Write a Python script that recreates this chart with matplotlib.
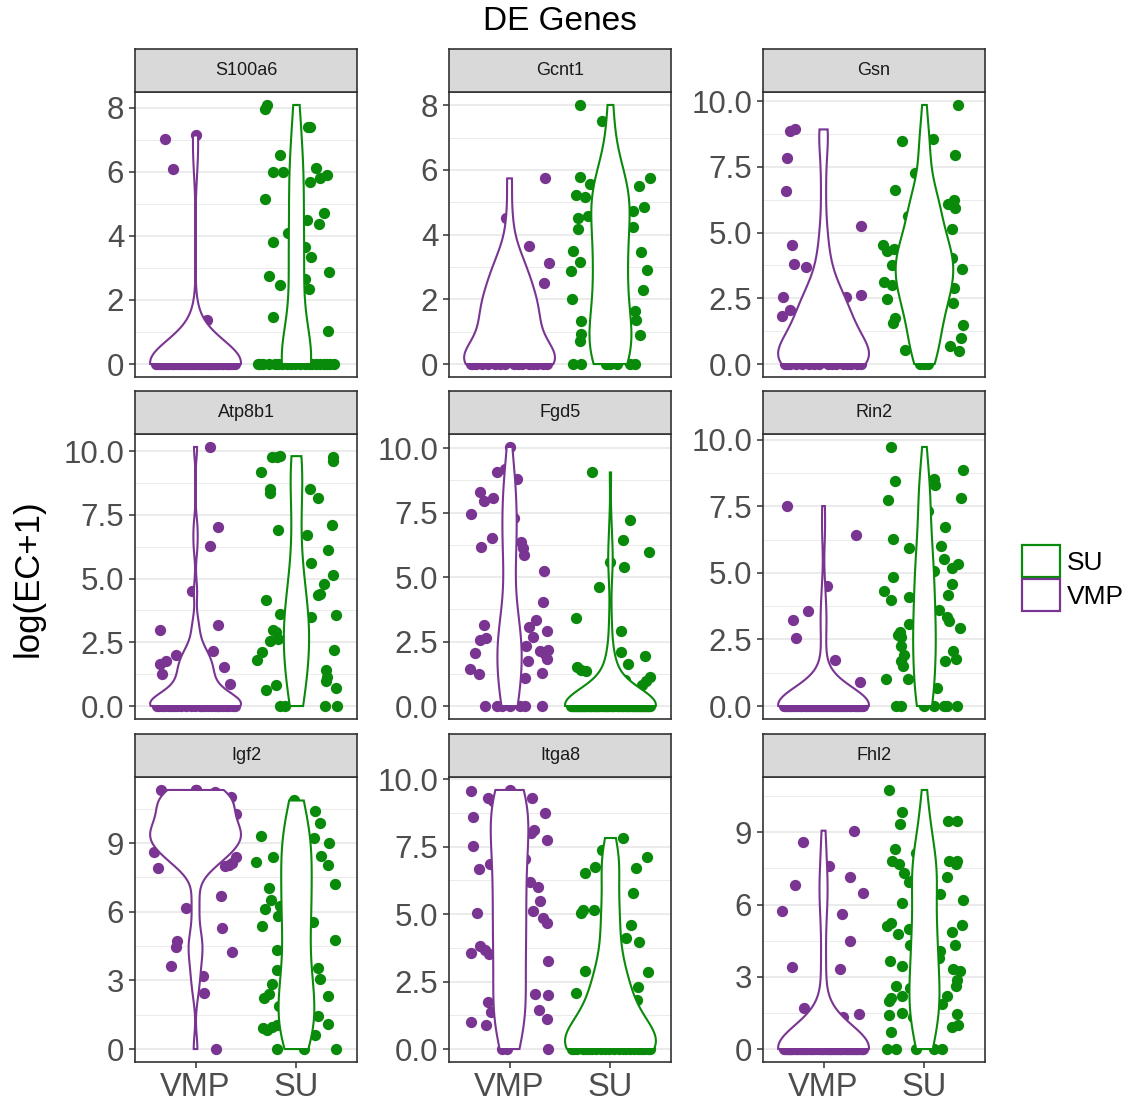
import numpy as np
import matplotlib
matplotlib.use("Agg")
import matplotlib.pyplot as plt
from matplotlib.patches import Patch

plt.rcParams['font.family'] = ['Liberation Sans', 'DejaVu Sans']

# ---------------- data ----------------
GENES = ['S100a6', 'Gcnt1', 'Gsn', 'Atp8b1', 'Fgd5', 'Rin2', 'Igf2', 'Itga8', 'Fhl2']
GROUPS = ['VMP', 'SU']
LEGEND_ORDER = ['SU', 'VMP']

# jitter offsets used for the many overlapping points at zero
ZERO_JIT = [-0.38, 0.12, -0.05, 0.33, -0.21, 0.27, -0.33, 0.04, 0.19, -0.14, 0.37, -0.27, 0.08,
            -0.09, 0.23, -0.36, 0.15, -0.01, 0.30, -0.18, 0.39, -0.24, 0.06, -0.31, 0.21, -0.11,
            0.35, -0.03, 0.10, -0.29, 0.26, -0.16, 0.01, -0.39, 0.17, -0.07, 0.32, -0.22, 0.13,
            -0.34, 0.24, -0.12, 0.38, -0.26, 0.03, -0.19, 0.29, -0.02, 0.16, -0.35,
            0.07, -0.32, 0.28, -0.13, 0.36, -0.20, 0.02, -0.37, 0.22, -0.06, 0.31, -0.25, 0.11,
            -0.15, 0.34, -0.30, 0.18, -0.04, 0.25, -0.28, 0.05, -0.40, 0.14, -0.10, 0.40, -0.17,
            0.09, -0.23, 0.20, -0.08]

# S100a6
S100a6_VMP_vals = [7.02, 6.09, 7.13, 1.37]
S100a6_VMP_jit = [-0.30, -0.22, 0.00, 0.115]
S100a6_VMP_hidden = [0.3, 0.5, 0.8, 1.0]
S100a6_VMP_zeros = 40
S100a6_SU_vals = [7.96, 8.08, 7.40, 7.38, 6.53, 5.99, 5.99, 6.11, 5.80, 5.88, 5.68, 5.14, 4.50, 4.70,
                  4.37, 4.08, 3.80, 3.66, 3.35, 2.88, 2.74, 2.47, 2.64, 2.33, 1.47, 1.02]
S100a6_SU_jit = [-0.31, -0.29, 0.11, 0.135, -0.16, -0.23, -0.135, 0.19, 0.23, 0.30, 0.13, -0.31, 0.10,
                 0.27, 0.22, -0.08, -0.23, 0.08, 0.14, 0.32, -0.27, -0.16, 0.08, 0.12, -0.23, 0.31]
S100a6_SU_hidden = [0.6, 1.5, 3.2]
S100a6_SU_zeros = 20

# Gcnt1
Gcnt1_VMP_vals = [5.74, 3.64, 3.12, 2.51, 4.50]
Gcnt1_VMP_jit = [0.35, 0.19, 0.39, 0.34, -0.035]
Gcnt1_VMP_hidden = [0.2, 0.4, 0.5, 0.7, 0.8, 0.9, 1.0, 1.1, 1.2, 1.3, 1.4, 1.5, 1.6, 1.7, 1.8, 1.9,
                    2.0, 2.1, 2.2, 2.4, 2.6, 2.8, 3.0, 3.3]
Gcnt1_VMP_zeros = 16
Gcnt1_SU_vals = [8.01, 7.52, 5.79, 5.56, 5.15, 5.23, 4.51, 4.57, 4.17, 3.50, 3.17, 2.88, 2.01, 1.34,
                 0.93, 0.72, 5.75, 5.51, 4.87, 4.74, 4.24, 3.45, 2.90, 2.30, 1.37, 0.90, 1.65,
                 0.0, 0.0, 0.0, 0.0, 0.0, 0.0, 0.0]
Gcnt1_SU_jit = [-0.30, -0.08, -0.30, -0.20, -0.25, -0.34, -0.32, -0.22, -0.32, -0.37, -0.30, -0.39,
                -0.38, -0.29, -0.29, -0.30, 0.39, 0.28, 0.33, 0.22, 0.22, 0.30, 0.36, 0.32, 0.25,
                0.29, 0.24, -0.37, -0.29, -0.04, 0.06, 0.19, 0.24, 0.0]
Gcnt1_SU_hidden = [0.3, 0.5, 0.8, 1.0, 1.5, 2.0, 2.5, 3.0, 3.5, 4.0, 4.5, 5.0, 5.5, 6.0, 6.5, 1.2, 2.7]
Gcnt1_SU_zeros = 0

# Gsn
Gsn_VMP_vals = [8.85, 8.92, 7.84, 6.57, 4.54, 3.81, 3.68, 2.55, 1.81, 2.07, 5.24, 2.64, 2.55]
Gsn_VMP_jit = [-0.33, -0.28, -0.36, -0.37, -0.31, -0.29, -0.17, -0.40, -0.41, -0.33, 0.37, 0.37, 0.22]
Gsn_VMP_hidden = [0.2, 0.3, 0.4, 0.5, 0.6, 0.7, 0.8, 0.9, 1.0, 1.0, 1.1, 1.2, 1.3, 1.4, 1.5, 1.6,
                  1.8, 2.0, 2.2, 2.4, 2.8, 3.1]
Gsn_VMP_zeros = 16
Gsn_SU_vals = [9.85, 8.48, 8.55, 7.94, 6.61, 7.27, 6.07, 6.22, 5.94, 5.15, 5.62, 4.54, 4.29, 4.39,
               3.76, 3.12, 3.02, 2.49, 1.75, 1.56, 0.52, 3.63, 4.04, 2.32, 2.89, 1.50, 0.99, 0.51,
               0.67, 0.0, 0.0, 0.0]
Gsn_SU_jit = [0.335, -0.22, 0.08, 0.30, -0.29, -0.09, 0.23, 0.29, 0.30, 0.27, -0.16, -0.41, -0.37,
              -0.30, -0.32, -0.40, -0.32, -0.37, -0.29, -0.31, -0.19, 0.37, 0.27, 0.28, 0.29, 0.38,
              0.36, 0.34, 0.25, -0.04, 0.0, 0.04]
Gsn_SU_hidden = [1.0, 1.5, 2.0, 2.2, 2.4, 2.6, 2.8, 2.9, 3.1, 3.3, 3.5, 3.6, 3.8, 3.9, 4.0, 4.1,
                 4.3, 4.5, 4.7, 5.0, 5.3, 5.6, 6.0, 6.5]
Gsn_SU_zeros = 0

# Atp8b1
Atp8b1_VMP_vals = [10.16, 7.04, 6.26, 4.50, 2.99, 1.66, 1.76, 1.24, 2.02, 3.19, 2.15, 1.55, 0.85]
Atp8b1_VMP_jit = [0.14, 0.22, 0.14, -0.035, -0.35, -0.35, -0.29, -0.33, -0.19, 0.22, 0.17, 0.28, 0.34]
Atp8b1_VMP_hidden = [0.2, 0.3, 0.4, 0.5, 0.6, 0.7, 0.8, 1.0, 1.1, 1.2, 1.3, 1.5, 1.8, 2.0, 2.3]
Atp8b1_VMP_zeros = 25
Atp8b1_SU_vals = [9.19, 9.77, 9.80, 9.77, 8.50, 8.37, 6.90, 8.50, 8.17, 6.70, 9.77, 9.61, 7.08, 6.11,
                  5.59, 5.15, 4.78, 4.39, 4.35, 3.58, 3.48, 4.16, 3.61, 2.99, 2.89, 2.57, 2.63, 2.11,
                  1.81, 0.61, 0.81, 2.20, 1.42, 1.13, 1.00, 0.70, 0.0, 0.0, 0.0, 0.0]
Atp8b1_SU_jit = [-0.35, -0.24, -0.16, -0.19, -0.26, -0.26, -0.18, 0.13, 0.21, 0.10, 0.36, 0.36, 0.35,
                 0.31, 0.14, 0.36, 0.27, 0.23, 0.21, 0.39, 0.14, -0.30, -0.16, -0.23, -0.20, -0.26,
                 -0.18, -0.34, -0.39, -0.30, -0.20, 0.37, 0.29, 0.30, 0.29, 0.39, -0.16, -0.11,
                 0.28, 0.40]
Atp8b1_SU_hidden = [1.5, 2.0, 2.5, 3.0, 3.3, 2.2, 2.8, 3.8, 4.5, 5.0]
Atp8b1_SU_zeros = 0

# Fgd5
Fgd5_VMP_vals = [10.05, 9.06, 9.20, 8.82, 8.30, 7.94, 8.07, 7.45, 7.30, 6.50, 6.18, 6.37, 6.14, 5.86,
                 5.24, 4.02, 3.35, 3.08, 2.90, 2.66, 2.32, 2.15, 2.17, 2.02, 1.76, 1.83, 1.27, 1.09,
                 3.15, 2.57, 2.63, 2.05, 1.42, 1.25, 0.0, 0.0, 0.0, 0.0, 0.0, 0.0, 0.0]
Fgd5_VMP_jit = [0.0, -0.12, -0.05, 0.07, -0.29, -0.25, -0.16, -0.38, 0.04, -0.17, -0.28, 0.11, 0.13,
                0.14, 0.34, 0.33, 0.26, 0.19, 0.37, 0.23, 0.16, 0.30, 0.38, 0.35, 0.18, 0.37, 0.32,
                0.15, -0.25, -0.29, -0.23, -0.34, -0.39, -0.30, -0.24, -0.12, -0.07, 0.0, 0.10,
                0.15, 0.32]
Fgd5_VMP_hidden = [0.5, 1.5, 3.5, 4.5, 5.5, 7.0, 8.0]
Fgd5_VMP_zeros = 0
Fgd5_SU_vals = [9.06, 7.23, 6.44, 5.97, 5.39, 4.62, 3.40, 2.92, 2.08, 1.63, 1.96, 1.12, 0.97, 0.80,
                1.02, 1.51, 1.40, 1.35, 5.60]
Fgd5_SU_jit = [-0.18, 0.19, 0.12, 0.38, 0.13, -0.11, -0.34, 0.10, 0.10, 0.17, 0.34, 0.39, 0.35, 0.31,
               0.14, -0.33, -0.29, -0.24, 0.0]
Fgd5_SU_hidden = [0.3, 0.5, 0.8]
Fgd5_SU_zeros = 70

# Rin2
Rin2_VMP_vals = [7.51, 6.41, 4.49, 3.23, 3.58, 2.56, 1.73, 0.90]
Rin2_VMP_jit = [-0.36, 0.32, 0.03, -0.30, -0.15, -0.27, 0.11, 0.36]
Rin2_VMP_hidden = [0.3, 0.6, 1.0]
Rin2_VMP_zeros = 40
Rin2_SU_vals = [9.73, 8.44, 7.72, 6.26, 4.85, 4.33, 3.98, 2.77, 2.68, 2.58, 2.27, 1.90, 1.68, 1.52,
                1.02, 5.95, 4.08, 3.08, 1.02, 8.52, 8.29, 7.32, 6.72, 6.01, 5.51, 5.07, 5.17, 5.35,
                4.60, 4.18, 3.62, 3.33, 3.20, 2.93, 2.08, 1.77, 1.68, 8.87, 7.82, 0.69,
                0.0, 0.0, 0.0, 0.0, 0.0, 0.0, 0.0]
Rin2_SU_jit = [-0.33, -0.29, -0.36, -0.31, -0.31, -0.40, -0.33, -0.24, -0.26, -0.23, -0.23, -0.20,
               -0.23, -0.21, -0.38, -0.15, -0.15, -0.15, -0.16, 0.09, 0.10, 0.04, 0.20, 0.16, 0.19,
               0.09, 0.27, 0.33, 0.27, 0.23, 0.14, 0.22, 0.24, 0.35, 0.28, 0.31, 0.20, 0.38, 0.36,
               0.12, -0.28, -0.23, 0.0, 0.09, 0.19, 0.22, 0.32]
Rin2_SU_hidden = [0.5, 1.5, 2.5, 3.5, 4.5, 5.5, 6.5, 7.5]
Rin2_SU_zeros = 0

# Igf2
Igf2_VMP_vals = [11.32, 10.86, 11.22, 11.03, 10.63, 10.28, 8.63, 7.90, 8.41, 8.12, 7.98, 8.05, 6.16,
                 6.70, 5.28, 4.22, 4.70, 4.48, 3.64, 3.17, 2.47, 0.0]
Igf2_VMP_jit = [-0.34, -0.29, 0.19, 0.35, 0.33, 0.40, -0.41, -0.37, 0.40, 0.36, 0.29, 0.33, -0.09,
                0.25, 0.26, 0.36, -0.18, -0.19, -0.24, 0.07, 0.08, 0.20]
Igf2_VMP_hidden = [8.3, 8.4, 8.5, 8.6, 8.7, 8.8, 8.9, 9.0, 9.0, 9.1, 9.1, 9.2, 9.2, 9.3, 9.3, 9.3,
                   9.4, 9.4, 9.5, 9.5, 9.6, 9.6, 9.7, 9.7, 9.8, 9.9, 10.0, 10.1, 10.2, 10.3, 10.4,
                   10.5, 10.6, 10.7, 10.8, 10.9, 11.0, 11.1, 11.2, 11.2, 11.3, 11.3, 11.3]
Igf2_VMP_zeros = 0
Igf2_SU_vals = [9.29, 8.19, 8.38, 7.03, 6.52, 6.11, 5.36, 5.82, 6.23, 4.34, 3.46, 2.85, 2.42, 2.23,
                1.89, 0.92, 0.82, 0.95, 1.06, 0.0, 0.0, 10.86, 10.42, 9.87, 9.02, 8.44, 8.05, 7.22,
                5.53, 4.75, 3.54, 3.06, 2.30, 1.46, 1.11, 0.63, 0.0, 9.20]
Igf2_SU_jit = [-0.35, -0.40, -0.23, -0.27, -0.25, -0.31, -0.34, -0.18, -0.16, -0.19, -0.19, -0.24,
               -0.27, -0.32, -0.17, -0.33, -0.29, -0.24, -0.19, -0.19, 0.07, -0.02, 0.18, 0.23,
               0.32, 0.24, 0.31, 0.38, 0.16, 0.38, 0.21, 0.23, 0.31, 0.21, 0.31, 0.18, 0.39, 0.17]
Igf2_SU_hidden = [0.3, 1.0, 1.5, 2.0, 2.7, 3.2, 3.9, 4.5, 5.0, 5.8, 6.5, 7.0, 7.6, 8.2, 8.8, 9.4,
                  10.0, 10.6]
Igf2_SU_zeros = 0

# Itga8
Itga8_VMP_vals = [9.57, 9.30, 9.20, 8.61, 7.52, 6.68, 6.86, 5.04, 3.57, 3.81, 3.67, 3.52, 1.76, 1.39,
                  1.00, 0.90, 9.30, 8.73, 7.76, 8.02, 8.12, 7.05, 6.19, 6.00, 5.49, 5.12, 4.87, 4.67,
                  3.27, 2.04, 1.99, 1.45, 1.13, 0.0, 0.0, 0.0]
Itga8_VMP_jit = [-0.385, -0.21, -0.16, -0.36, -0.36, -0.30, -0.19, -0.32, -0.38, -0.29, -0.24, -0.20,
                 -0.21, -0.18, -0.38, -0.23, 0.22, 0.35, 0.37, 0.21, 0.24, 0.15, 0.20, 0.28, 0.30,
                 0.23, 0.33, 0.37, 0.38, 0.25, 0.38, 0.29, 0.37, 0.38, -0.07, -0.03]
Itga8_VMP_hidden = [0.5, 1.2, 2.0, 2.6, 3.0, 3.5, 4.2, 4.8, 5.5, 6.0, 6.6, 7.2, 7.8, 8.3, 8.8, 9.2,
                    9.4, 9.5, 9.6]
Itga8_VMP_zeros = 0
Itga8_SU_vals = [7.82, 7.36, 6.74, 6.52, 7.13, 6.70, 5.79, 4.61, 4.11, 3.95, 2.87, 2.29, 1.80, 5.04,
                 5.14, 5.17, 2.90, 2.07]
Itga8_SU_jit = [0.12, -0.08, -0.15, -0.25, 0.36, 0.25, 0.22, 0.20, 0.15, 0.28, 0.37, 0.27, 0.26,
                -0.29, -0.27, -0.16, -0.25, -0.34]
Itga8_SU_hidden = [0.2, 0.3, 0.4, 0.5, 0.6, 0.7, 0.8, 0.9, 1.0, 1.1, 1.2, 1.3, 1.4, 1.6, 1.8, 2.0,
                   2.2, 2.5, 2.8, 3.2, 3.6]
Itga8_SU_zeros = 22

# Fhl2
Fhl2_VMP_vals = [5.74, 6.80, 8.60, 3.40, 1.70, 0.84, 0.97, 7.61, 9.07, 7.14, 6.50, 5.62, 4.47, 3.33,
                 1.33, 1.45]
Fhl2_VMP_jit = [-0.41, -0.28, -0.20, -0.31, -0.19, -0.26, -0.13, 0.05, 0.30, 0.26, 0.39, 0.18, 0.26,
                0.16, 0.19, 0.35]
Fhl2_VMP_hidden = []
Fhl2_VMP_zeros = 52
Fhl2_SU_vals = [10.76, 9.86, 9.35, 9.49, 9.45, 8.31, 7.83, 7.69, 7.30, 6.92, 7.03, 6.27, 6.06, 8.16,
                5.09, 5.23, 4.79, 4.99, 4.33, 3.64, 3.43, 2.53, 2.60, 2.12, 1.98, 2.19, 1.49, 1.42,
                1.33, 0.69, 0.0, 0.0, 0.0, 0.0, 0.0, 6.45, 7.16, 7.79, 7.79, 7.69, 6.20, 5.16, 4.88,
                4.33, 4.09, 3.78, 3.32, 3.26, 2.88, 2.60, 2.19, 1.88, 1.45, 1.01, 0.90]
Fhl2_SU_jit = [-0.355, -0.22, -0.24, 0.23, 0.32, -0.29, -0.32, -0.25, -0.20, -0.15, -0.11, -0.07,
               -0.22, -0.08, -0.375, -0.33, -0.26, -0.15, -0.14, -0.34, -0.22, -0.14, -0.28, -0.33,
               -0.35, -0.22, -0.22, -0.355, -0.11, -0.33, -0.37, -0.28, -0.08, 0.09, 0.17, 0.15,
               0.22, 0.24, 0.32, 0.31, 0.38, 0.37, 0.27, 0.30, 0.15, 0.14, 0.28, 0.35, 0.32, 0.31,
               0.22, 0.17, 0.32, 0.33, 0.27]
Fhl2_SU_hidden = [1.0, 2.0, 3.0, 4.0, 5.0, 6.0, 7.0, 8.0]
Fhl2_SU_zeros = 0

# y tick labels per facet
YTICKS = {
    'S100a6': ['0', '2', '4', '6', '8'],
    'Gcnt1': ['0', '2', '4', '6', '8'],
    'Gsn': ['0.0', '2.5', '5.0', '7.5', '10.0'],
    'Atp8b1': ['0.0', '2.5', '5.0', '7.5', '10.0'],
    'Fgd5': ['0.0', '2.5', '5.0', '7.5', '10.0'],
    'Rin2': ['0.0', '2.5', '5.0', '7.5', '10.0'],
    'Igf2': ['0', '3', '6', '9'],
    'Itga8': ['0.0', '2.5', '5.0', '7.5', '10.0'],
    'Fhl2': ['0', '3', '6', '9'],
}

# ---------------- styling ----------------
COLORS = {'VMP': '#7A3592', 'SU': '#0A8A0A'}
W, H = 1133, 1105
COL_LEFT = [135, 449, 763]
PANEL_W = 222
STRIP_TOP = [49, 391, 734]
STRIP_H = 43
PANEL_H = 285
GRID_C = '#EBEBEB'
DARK = '#333333'
TICK_C = '#4D4D4D'


def bw_nrd0(y):
    y = np.asarray(y, float)
    hi = y.std(ddof=1)
    q75, q25 = np.percentile(y, [75, 25])
    lo = min(hi, (q75 - q25) / 1.34)
    if not lo > 0:
        lo = hi if hi > 0 else (abs(y[0]) if y[0] != 0 else 1.0)
    return 0.9 * lo * len(y) ** -0.2


def density(y):
    y = np.asarray(y, float)
    bw = bw_nrd0(y)
    grid = np.linspace(y.min(), y.max(), 512)
    d = np.exp(-0.5 * ((grid[:, None] - y[None, :]) / bw) ** 2).sum(1) / (len(y) * bw * np.sqrt(2 * np.pi))
    return grid, d


def group_data(gene, grp):
    g = globals()
    vals = list(g[f'{gene}_{grp}_vals'])
    jit = list(g[f'{gene}_{grp}_jit'])
    hidden = list(g[f'{gene}_{grp}_hidden'])
    nz = g[f'{gene}_{grp}_zeros']
    px = jit + [0.0] * len(hidden) + ZERO_JIT[:nz]
    py = vals + hidden + [0.0] * nz
    return np.array(px), np.array(py)


fig = plt.figure(figsize=(W / 100, H / 100), dpi=100)
fig.patch.set_facecolor('white')

for i, gene in enumerate(GENES):
    r, c = divmod(i, 3)
    left = COL_LEFT[c]
    ptop = STRIP_TOP[r] + STRIP_H
    ax = fig.add_axes([left / W, 1 - (ptop + PANEL_H) / H, PANEL_W / W, PANEL_H / H])
    data = {grp: group_data(gene, grp) for grp in GROUPS}
    dens = {grp: density(data[grp][1]) for grp in GROUPS}
    dmax = max(d.max() for _, d in dens.values())
    ymax = max(data[grp][1].max() for grp in GROUPS)
    for k, grp in enumerate(GROUPS):
        pos = k + 1
        px, py = data[grp]
        ax.scatter(pos + px, py, s=66, color=COLORS[grp], linewidths=0, zorder=2)
        grid, d = dens[grp]
        w = 0.45 * d / dmax
        xs = np.concatenate([pos - w, (pos + w)[::-1]])
        ys = np.concatenate([grid, grid[::-1]])
        ax.fill(xs, ys, facecolor='white', edgecolor=COLORS[grp], linewidth=1.5, zorder=3)

    ax.set_xlim(0.4, 2.6)
    ax.set_ylim(-0.05 * ymax, 1.05 * ymax)
    labels = YTICKS[gene]
    ticks = [float(s) for s in labels]
    step = ticks[1] - ticks[0]
    minors = [t + step / 2 for t in ticks] + [ticks[0] - step / 2]
    minors = [m for m in minors if -0.05 * ymax <= m <= 1.05 * ymax]
    ax.set_yticks(ticks)
    ax.set_yticklabels(labels)
    ax.set_yticks(minors, minor=True)
    ax.yaxis.grid(True, which='major', color=GRID_C, linewidth=1.4)
    ax.yaxis.grid(True, which='minor', color=GRID_C, linewidth=0.7)
    ax.xaxis.grid(False)
    ax.set_axisbelow(True)
    ax.tick_params(axis='y', which='minor', length=0)
    ax.tick_params(axis='both', which='major', length=4.3, width=1.1, color=DARK,
                   labelcolor=TICK_C, labelsize=22.5, pad=3.5)
    ax.set_xticks([1, 2])
    if r == 2:
        ax.set_xticklabels(GROUPS)
        ax.tick_params(axis='x', labelsize=23.5, pad=3.0)
    else:
        ax.tick_params(axis='x', bottom=False, labelbottom=False)
    for sp in ax.spines.values():
        sp.set_color(DARK)
        sp.set_linewidth(1.2)

    sax = fig.add_axes([left / W, 1 - (STRIP_TOP[r] + STRIP_H) / H, PANEL_W / W, STRIP_H / H])
    sax.set_facecolor('#D9D9D9')
    sax.set_xticks([])
    sax.set_yticks([])
    for sp in sax.spines.values():
        sp.set_color(DARK)
        sp.set_linewidth(1.2)
    sax.text(0.5, 0.5, gene, ha='center', va='center', fontsize=13, color='#1A1A1A',
             transform=sax.transAxes)

fig.text(560 / W, 1 - 22 / H, 'DE Genes', ha='center', va='center', fontsize=24, color='black')
fig.text(28 / W, 1 - 578 / H, 'log(EC+1)', rotation=90, ha='center', va='center', fontsize=25,
         color='black')

handles = [Patch(facecolor='white', edgecolor=COLORS[g], linewidth=1.6, label=g) for g in LEGEND_ORDER]
fig.legend(handles=handles, loc='center left', bbox_to_anchor=(1022 / W, 1 - 578 / H),
           frameon=False, fontsize=19, handlelength=1.45, handleheight=1.45, labelspacing=0.1,
           handletextpad=0.25, borderaxespad=0, borderpad=0)

fig.savefig('out.png', dpi=100, facecolor='white')
